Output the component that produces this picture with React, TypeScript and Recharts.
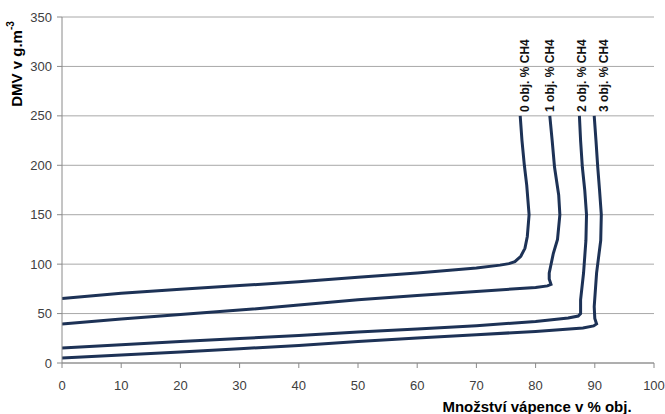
import React from 'react';
import { LineChart, Line, XAxis, YAxis, CartesianGrid, ReferenceDot } from 'recharts';

const xTicks = [0, 10, 20, 30, 40, 50, 60, 70, 80, 90, 100];
const yTicks = [0, 50, 100, 150, 200, 250, 300, 350];

const curve0 = [
  { x: 0, y: 65.3 }, { x: 10, y: 70.5 }, { x: 20, y: 74.5 }, { x: 30, y: 78.3 }, { x: 40, y: 82.3 },
  { x: 50, y: 86.8 }, { x: 60, y: 91 }, { x: 70, y: 96 }, { x: 74, y: 99 }, { x: 75.5, y: 100.5 },
  { x: 76.5, y: 102.5 }, { x: 77.5, y: 108 }, { x: 78.2, y: 116 }, { x: 78.6, y: 128 }, { x: 78.9, y: 150 },
  { x: 78.5, y: 180 }, { x: 78.1, y: 200 }, { x: 77.7, y: 225 }, { x: 77.4, y: 250 },
];
const curve1 = [
  { x: 0, y: 39.4 }, { x: 10, y: 44.4 }, { x: 20, y: 49.1 }, { x: 30, y: 53.5 }, { x: 40, y: 58.6 },
  { x: 50, y: 64 }, { x: 60, y: 68.3 }, { x: 70, y: 72.3 }, { x: 80, y: 76.4 }, { x: 82, y: 78 },
  { x: 82.6, y: 79.5 }, { x: 82.3, y: 85 }, { x: 82.3, y: 91 }, { x: 83, y: 111 }, { x: 83.7, y: 125 },
  { x: 84.1, y: 150 }, { x: 83.9, y: 170 }, { x: 83.2, y: 198 }, { x: 82.8, y: 225 }, { x: 82.4, y: 250 },
];
const curve2 = [
  { x: 0, y: 15.2 }, { x: 10, y: 18.5 }, { x: 20, y: 21.8 }, { x: 30, y: 24.8 }, { x: 40, y: 27.9 },
  { x: 50, y: 31.3 }, { x: 60, y: 34.3 }, { x: 70, y: 37.7 }, { x: 80, y: 42 }, { x: 85.5, y: 45.5 },
  { x: 87.2, y: 47.5 }, { x: 87.6, y: 50 }, { x: 87.6, y: 64 }, { x: 88.1, y: 91 }, { x: 88.5, y: 124 },
  { x: 88.6, y: 150 }, { x: 88.3, y: 175 }, { x: 87.9, y: 198 }, { x: 87.6, y: 225 }, { x: 87.4, y: 250 },
];
const curve3 = [
  { x: 0, y: 5 }, { x: 10, y: 8.1 }, { x: 20, y: 11.1 }, { x: 30, y: 14.4 }, { x: 40, y: 17.8 },
  { x: 50, y: 21.8 }, { x: 60, y: 25.2 }, { x: 70, y: 28.6 }, { x: 80, y: 31.9 }, { x: 88, y: 35.5 },
  { x: 89.8, y: 37.5 }, { x: 90.3, y: 39.5 }, { x: 90, y: 45 }, { x: 89.9, y: 57 }, { x: 90.3, y: 91 },
  { x: 91, y: 124 }, { x: 91.1, y: 150 }, { x: 90.8, y: 175 }, { x: 90.5, y: 198 }, { x: 90.2, y: 225 },
  { x: 89.9, y: 250 },
];

const curves = [curve0, curve1, curve2, curve3];
const seriesNames = ['0 obj. % CH4', '1 obj. % CH4', '2 obj. % CH4', '3 obj. % CH4'];
const labelX = [78.2, 82.5, 87.9, 91.5];
const labelY = 254;

const FONT = '"Liberation Sans", Arial, sans-serif';
const LINE_COLOR = '#1d3256';

const YLabel = () => (
  <text
    x={16}
    y={64}
    transform="rotate(-90, 16, 64)"
    textAnchor="middle"
    dominantBaseline="central"
    fontFamily={FONT}
    fontSize={15}
    fontWeight="bold"
    fill="#000"
  >
    DMV v g.m
    <tspan dy={-6} fontSize={10}>-3</tspan>
  </text>
);

const XLabel = () => (
  <text
    x={537}
    y={406}
    textAnchor="middle"
    dominantBaseline="central"
    fontFamily={FONT}
    fontSize={15}
    fontWeight="bold"
    fill="#000"
  >
    Množství vápence v % obj.
  </text>
);

export default function App() {
  return (
    <div style={{ position: 'absolute', left: 0, top: 0, background: '#fff' }}>
      <LineChart
        width={665}
        height={414}
        margin={{ top: 17, right: 11, bottom: 21, left: 12 }}
      >
        <CartesianGrid vertical={false} stroke="#a8a8a8" strokeWidth={1} />
        <XAxis
          dataKey="x"
          type="number"
          domain={[0, 100]}
          ticks={xTicks}
          interval={0}
          allowDataOverflow
          height={30}
          stroke="#8a8a8a"
          tickSize={5}
          tickMargin={13}
          tick={{ fill: '#404040', fontSize: 13, fontFamily: FONT }}
          label={{ content: XLabel }}
        />
        <YAxis
          dataKey="y"
          type="number"
          domain={[0, 350]}
          ticks={yTicks}
          interval={0}
          width={50}
          stroke="#8a8a8a"
          tickSize={5}
          tickMargin={5}
          tick={{ fill: '#404040', fontSize: 13, fontFamily: FONT }}
          label={{ content: YLabel }}
        />
        {curves.map((c, i) => (
          <Line
            key={seriesNames[i]}
            data={c}
            dataKey="y"
            name={seriesNames[i]}
            type="linear"
            stroke={LINE_COLOR}
            strokeWidth={3}
            dot={false}
            activeDot={false}
            isAnimationActive={false}
          />
        ))}
        {seriesNames.map((n, i) => (
          <ReferenceDot
            key={'lbl' + i}
            x={labelX[i]}
            y={labelY}
            r={0}
            shape={(p: any) => (
              <text
                x={p.cx}
                y={p.cy}
                transform={`rotate(-90, ${p.cx}, ${p.cy})`}
                textAnchor="start"
                dominantBaseline="central"
                fontFamily={FONT}
                fontSize={12}
                fontWeight="bold"
                fill="#111"
              >
                {n}
              </text>
            )}
          />
        ))}
      </LineChart>
    </div>
  );
}
